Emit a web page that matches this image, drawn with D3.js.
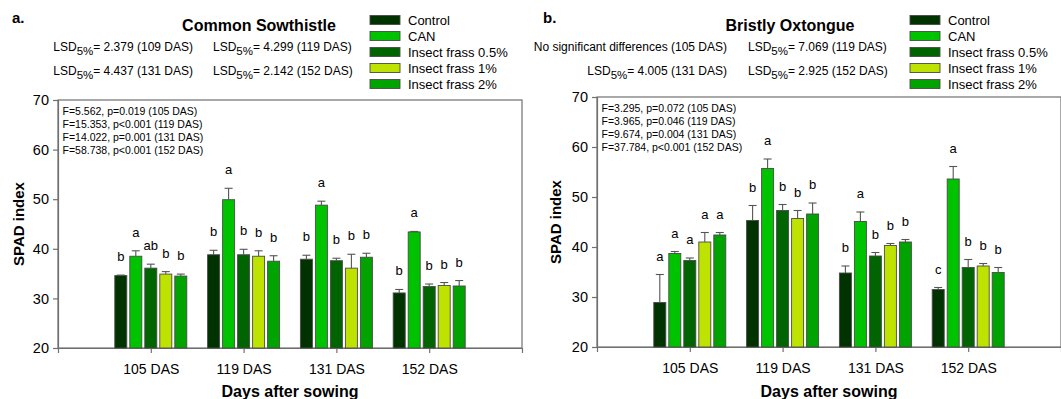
<!DOCTYPE html>
<html>
<head>
<meta charset="utf-8">
<script src="https://cdn.jsdelivr.net/npm/d3@7/dist/d3.min.js"></script>
<style>
  html, body { margin: 0; padding: 0; background: #fff; }
  svg { display: block; font-family: "Liberation Sans", Arial, sans-serif; }
</style>
</head>
<body>
<svg id="chart" width="1061" height="399"></svg>
<script>
// ---------- DATA ----------
const categories = ["105 DAS", "119 DAS", "131 DAS", "152 DAS"];
const treatments = ["Control", "CAN", "Insect frass 0.5%", "Insect frass 1%", "Insect frass 2%"];
const yTicks = [20, 30, 40, 50, 60, 70];

// Panel a: Common Sowthistle (means per treatment across categories)
const sowControl = [34.6, 38.8, 37.9, 31.1];
const sowCAN     = [38.5, 49.9, 48.8, 43.4];
const sowF05     = [36.1, 38.8, 37.6, 32.4];
const sowF1      = [34.9, 38.5, 36.1, 32.6];
const sowF2      = [34.5, 37.5, 38.3, 32.5];
const sowErrControl = [0.1, 0.9, 0.8, 0.7];
const sowErrCAN     = [1.1, 2.3, 0.8, 0.1];
const sowErrF05     = [0.8, 1.1, 0.5, 0.5];
const sowErrF1      = [0.5, 1.1, 2.8, 0.6];
const sowErrF2      = [0.4, 1.1, 0.8, 1.1];
const sowLetters = [
  ["b", "a", "ab", "b", "b"],
  ["b", "a", "b", "b", "b"],
  ["b", "a", "b", "b", "b"],
  ["b", "a", "b", "b", "b"]
];
const sowLSD = [
  ["LSD", "5%", "= 2.379 (109 DAS)"],
  ["LSD", "5%", "= 4.299 (119 DAS)"],
  ["LSD", "5%", "= 4.437 (131 DAS)"],
  ["LSD", "5%", "= 2.142 (152 DAS)"]
];
const sowStats = [
  "F=5.562, p=0.019 (105 DAS)",
  "F=15.353, p<0.001 (119 DAS)",
  "F=14.022, p=0.001 (131 DAS)",
  "F=58.738, p<0.001 (152 DAS)"
];

// Panel b: Bristly Oxtongue
const oxControl = [28.9, 45.3, 34.8, 31.5];
const oxCAN     = [38.7, 55.7, 45.1, 53.6];
const oxF05     = [37.3, 47.3, 38.2, 35.9];
const oxF1      = [41.0, 45.7, 40.3, 36.2];
const oxF2      = [42.4, 46.6, 41.0, 34.9];
const oxErrControl = [5.6, 3.0, 1.4, 0.4];
const oxErrCAN     = [0.4, 1.9, 1.9, 2.5];
const oxErrF05     = [0.5, 1.2, 0.7, 1.6];
const oxErrF1      = [1.9, 1.6, 0.4, 0.5];
const oxErrF2      = [0.5, 2.2, 0.5, 1.0];
const oxLetters = [
  ["a", "a", "a", "a", "a"],
  ["b", "a", "b", "b", "b"],
  ["b", "a", "b", "b", "b"],
  ["c", "a", "b", "b", "b"]
];
const oxLSD = [
  ["No significant differences (105 DAS)"],
  ["LSD", "5%", "= 7.069 (119 DAS)"],
  ["LSD", "5%", "= 4.005 (131 DAS)"],
  ["LSD", "5%", "= 2.925 (152 DAS)"]
];
const oxStats = [
  "F=3.295, p=0.072 (105 DAS)",
  "F=3.965, p=0.046 (119 DAS)",
  "F=9.674, p=0.004 (131 DAS)",
  "F=37.784, p<0.001 (152 DAS)"
];

// ---------- STYLE ----------
const colors = ["#003300", "#00c300", "#006400", "#bfe300", "#00a300"];
const axisColor = "#707070";
const font = '"Liberation Sans", Arial, sans-serif';

const svg = d3.select("#chart");
svg.append("rect").attr("width", 1061).attr("height", 399).attr("fill", "#fff");

function drawPanel(p) {
  const g = svg.append("g");
  const x = d3.scaleLinear().domain([0, categories.length + 1]).range([p.left, p.right]);
  const y = d3.scaleLinear().domain([20, 70]).range([p.bottom, p.top]);
  const barW = 12, step = 15;
  const offset = d3.scaleLinear().domain([0, treatments.length - 1]).range([-2 * step, 2 * step]);

  // frame
  g.append("rect")
    .attr("x", p.left).attr("y", y(70))
    .attr("width", p.right - p.left).attr("height", y(20) - y(70))
    .attr("fill", "none").attr("stroke", axisColor).attr("stroke-width", 1.2);

  // y axis
  const yAxis = d3.axisLeft(y).tickValues(yTicks).tickSize(5).tickPadding(4).tickFormat(d3.format("d"));
  const ya = g.append("g").attr("transform", `translate(${p.left},0)`).call(yAxis);
  ya.select(".domain").attr("stroke", axisColor).attr("stroke-width", 1.2);
  ya.selectAll(".tick line").attr("stroke", axisColor).attr("stroke-width", 1.2);
  ya.selectAll(".tick text").attr("font-size", 14.5).attr("font-family", font).attr("fill", "#000");

  // x axis
  const xAxis = d3.axisBottom(x).tickValues(d3.range(1, categories.length + 1))
    .tickSize(5).tickPadding(11).tickFormat(i => categories[i - 1]);
  const xa = g.append("g").attr("transform", `translate(0,${p.bottom})`).call(xAxis);
  xa.select(".domain").attr("stroke", axisColor).attr("stroke-width", 1.2);
  xa.selectAll(".tick line").attr("stroke", axisColor).attr("stroke-width", 1.2);
  xa.selectAll(".tick text").attr("font-size", 14).attr("font-family", font).attr("fill", "#000");

  // bars
  const rows = [];
  categories.forEach((c, ci) => {
    treatments.forEach((t, ti) => {
      rows.push({ ci, ti, v: p.means[ti][ci], e: p.errs[ti][ci], letter: p.letters[ci][ti] });
    });
  });
  const cx = d => x(d.ci + 1) + offset(d.ti);

  g.selectAll("rect.bar").data(rows).enter().append("rect")
    .attr("class", "bar")
    .attr("x", d => cx(d) - barW / 2)
    .attr("y", d => y(d.v))
    .attr("width", barW)
    .attr("height", d => y(20) - y(d.v))
    .attr("fill", d => colors[d.ti])
    .attr("stroke", "#4a4a4a").attr("stroke-width", 0.9);

  // error bars (upper only)
  g.selectAll("line.err").data(rows).enter().append("line")
    .attr("x1", cx).attr("x2", cx)
    .attr("y1", d => y(d.v)).attr("y2", d => y(d.v + d.e))
    .attr("stroke", "#555").attr("stroke-width", 1.1);
  g.selectAll("line.cap").data(rows).enter().append("line")
    .attr("x1", d => cx(d) - 4).attr("x2", d => cx(d) + 4)
    .attr("y1", d => y(d.v + d.e)).attr("y2", d => y(d.v + d.e))
    .attr("stroke", "#555").attr("stroke-width", 1.1);

  // significance letters
  g.selectAll("text.letter").data(rows).enter().append("text")
    .attr("x", cx)
    .attr("y", d => y(d.v + d.e) - 14)
    .attr("text-anchor", "middle")
    .attr("font-size", 13).attr("font-family", font).attr("fill", "#000")
    .text(d => d.letter);

  // stats text inside plot
  p.stats.forEach((s, i) => {
    g.append("text")
      .attr("x", p.left + 4.5).attr("y", y(70) + 14.5 + i * 13.3)
      .attr("font-size", 10.5).attr("font-family", font).attr("fill", "#000")
      .text(s);
  });

  // axis titles
  g.append("text")
    .attr("transform", `translate(${p.yTitleX},${(y(20) + y(70)) / 2}) rotate(-90)`)
    .attr("text-anchor", "middle")
    .attr("font-size", 15).attr("font-weight", "bold").attr("font-family", font)
    .text("SPAD index");
  g.append("text")
    .attr("x", (p.left + p.right) / 2).attr("y", 397)
    .attr("text-anchor", "middle")
    .attr("font-size", 16).attr("font-weight", "bold").attr("font-family", font)
    .text("Days after sowing");

  // panel letter + title
  g.append("text").attr("x", p.labelX).attr("y", 23)
    .attr("font-size", 15).attr("font-weight", "bold").attr("font-family", font)
    .text(p.label);
  g.append("text").attr("x", p.titleX).attr("y", 31)
    .attr("text-anchor", "middle")
    .attr("font-size", 16).attr("font-weight", "bold").attr("font-family", font)
    .text(p.title);

  // LSD lines
  p.lsd.forEach((parts, i) => {
    const col = i % 2, row = Math.floor(i / 2);
    const t = g.append("text")
      .attr("x", col === 0 ? p.lsdCol1End : p.lsdCol2Start)
      .attr("y", 51 + row * 24)
      .attr("text-anchor", col === 0 ? "end" : "start")
      .attr("font-size", 12).attr("font-family", font).attr("fill", "#000");
    if (parts.length === 1) {
      t.text(parts[0]);
    } else {
      t.append("tspan").text(parts[0]);
      t.append("tspan").attr("dy", 4).attr("font-size", 11.5).text(parts[1]);
      t.append("tspan").attr("dy", -4).text(parts[2]);
    }
  });

  // legend
  const lg = g.append("g");
  treatments.forEach((t, i) => {
    const yy = 20 + i * 16;
    lg.append("rect").attr("x", p.legendX).attr("y", yy - 4.5)
      .attr("width", 30).attr("height", 9)
      .attr("fill", colors[i]).attr("stroke", "#4a4a4a").attr("stroke-width", 0.9);
    lg.append("text").attr("x", p.legendX + 38).attr("y", yy + 4.5)
      .attr("font-size", 13).attr("font-family", font).attr("fill", "#000")
      .text(t);
  });
}

drawPanel({
  left: 58, right: 522, top: 100, bottom: 348,
  means: [sowControl, sowCAN, sowF05, sowF1, sowF2],
  errs: [sowErrControl, sowErrCAN, sowErrF05, sowErrF1, sowErrF2],
  letters: sowLetters, stats: sowStats, lsd: sowLSD,
  yTitleX: 24, label: "a.", labelX: 12, title: "Common Sowthistle", titleX: 259,
  lsdCol1End: 193, lsdCol2Start: 213, legendX: 370
});

drawPanel({
  left: 597, right: 1061, top: 97, bottom: 347,
  means: [oxControl, oxCAN, oxF05, oxF1, oxF2],
  errs: [oxErrControl, oxErrCAN, oxErrF05, oxErrF1, oxErrF2],
  letters: oxLetters, stats: oxStats, lsd: oxLSD,
  yTitleX: 561, label: "b.", labelX: 543, title: "Bristly Oxtongue", titleX: 790,
  lsdCol1End: 727, lsdCol2Start: 748, legendX: 910
});
</script>
</body>
</html>
